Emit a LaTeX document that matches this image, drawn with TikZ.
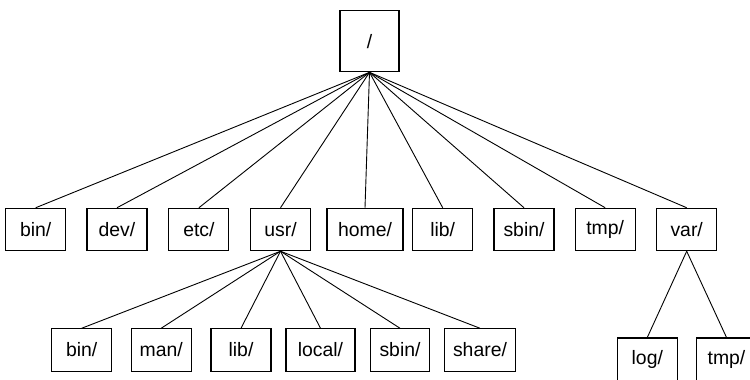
\documentclass[tikz,border=0pt]{standalone}
\usepackage{fontspec}
\setmainfont{Liberation Sans}
\begin{document}
\begin{tikzpicture}[x=1pt,y=1pt,
  dirbox/.style={draw, line width=1.1pt, rectangle, inner sep=0pt, minimum height=42.4pt, minimum width=60pt, font=\fontsize{19.4}{22}\selectfont},
  edge/.style={line width=0.9pt}]
\useasboundingbox (0,0) rectangle (750,380);
\fill[white] (0,0) rectangle (750,380);
\node[dirbox, minimum width=59pt, minimum height=61pt] (root) at (369.5,338.7) {/};
% level 1
\node[dirbox] (bin) at (35.7,150.5) {bin/};
\node[dirbox] (dev) at (117,150.5) {dev/};
\node[dirbox] (etc) at (198.9,150.5) {etc/};
\node[dirbox] (usr) at (280.5,150.5) {usr/};
\node[dirbox, minimum width=76pt] (home) at (365,150.5) {home/};
\node[dirbox] (lib) at (442.7,150.5) {lib/};
\node[dirbox] (sbin) at (524,150.5) {sbin/};
\node[dirbox] (tmp) at (605.2,150.5) {tmp/};
\node[dirbox] (var) at (686.7,150.5) {var/};
% usr children
\node[dirbox] (ubin) at (81.7,30) {bin/};
\node[dirbox] (uman) at (161.2,30) {man/};
\node[dirbox] (ulib) at (241,30) {lib/};
\node[dirbox, minimum width=69pt] (ulocal) at (320.5,30) {local/};
\node[dirbox, minimum width=58.6pt] (usbin) at (400,30) {sbin/};
\node[dirbox, minimum width=71.4pt] (ushare) at (480,30) {share/};
% var children
\node[dirbox] (vlog) at (647.3,20.8) {log/};
\node[dirbox] (vtmp) at (726.5,20.8) {tmp/};
% edges
\foreach \c in {bin,dev,etc,usr,home,lib,sbin,tmp,var}
  \draw[edge] (root.south) -- (\c.north);
\foreach \c in {ubin,uman,ulib,ulocal,usbin,ushare}
  \draw[edge] (usr.south) -- (\c.north);
\foreach \c in {vlog,vtmp}
  \draw[edge] (var.south) -- (\c.north);
\end{tikzpicture}
\end{document}
